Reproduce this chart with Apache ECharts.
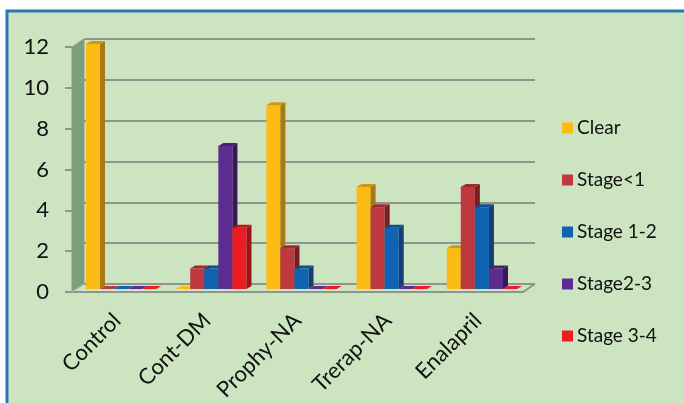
<!DOCTYPE html>
<html>
<head>
<meta charset="utf-8">
<script src="https://cdn.jsdelivr.net/npm/echarts@6/dist/echarts.min.js"></script>
<style>
  html, body { margin: 0; padding: 0; background: #ffffff; }
  #chart { width: 684px; height: 403px; }
</style>
</head>
<body>
<div id="chart"></div>
<script>
// Groups and staging counts
const categories = ['Control', 'Cont-DM', 'Prophy-NA', 'Trerap-NA', 'Enalapril'];
const seriesNames = ['Clear', 'Stage<1', 'Stage 1-2', 'Stage2-3', 'Stage 3-4'];
const clear     = [12, 0, 9, 5, 2];
const stageLt1  = [0, 1, 2, 4, 5];
const stage1to2 = [0, 1, 1, 3, 4];
const stage2to3 = [0, 7, 0, 0, 1];
const stage3to4 = [0, 3, 0, 0, 0];
const yMin = 0, yMax = 12, yStep = 2;

const seriesValues = [clear, stageLt1, stage1to2, stage2to3, stage3to4];

// face / side / top shades for the pseudo-3D columns
const palette = [
  { face: '#fcbc14', side: '#a97a14', top: '#cf9812' },
  { face: '#bf383e', side: '#7b1d22', top: '#9e2a30' },
  { face: '#0f63b3', side: '#133f77', top: '#0d4d8d' },
  { face: '#5d2c8f', side: '#36185b', top: '#472171' },
  { face: '#ec1c24', side: '#9e1218', top: '#c3161c' }
];

// front plane, column plane and back wall, each shifted up-right for depth
const front = { left: 72, top: 47, right: 161, bottom: 111, outerBoundsMode: 'none' };
const colShift = [4, -3];
const backShift = [12, -8];
const colDepth = [5, -3];
const groupFill = 0.78;

function shifted(g, s) {
  return { left: g.left + s[0], right: g.right - s[0], top: g.top + s[1], bottom: g.bottom - s[1], outerBoundsMode: 'none' };
}

function columnRenderer(si) {
  return function (params, api) {
    const ci = api.value(0);
    const v = api.value(1);
    const band = api.size([1, 0])[0];
    const groupW = band * groupFill;
    const bw = groupW / seriesNames.length;
    const base = api.coord([ci, 0]);
    const x0 = base[0] - groupW / 2 + si * bw;
    const yb = base[1];
    const yt = api.coord([ci, v])[1];
    const dx = colDepth[0], dy = colDepth[1];
    const c = palette[si];
    return {
      type: 'group',
      children: [
        { type: 'rect', shape: { x: x0, y: yt, width: bw, height: yb - yt }, style: { fill: c.face } },
        { type: 'polygon', shape: { points: [[x0 + bw, yt], [x0 + bw + dx, yt + dy], [x0 + bw + dx, yb + dy], [x0 + bw, yb]] }, style: { fill: c.side } },
        { type: 'polygon', shape: { points: [[x0, yt], [x0 + dx, yt + dy], [x0 + bw + dx, yt + dy], [x0 + bw, yt]] }, style: { fill: v === 0 ? c.face : c.top } }
      ]
    };
  };
}

// side wall and floor outline, built from the front grid rectangle
function wallRenderer(params) {
  const r = params.coordSys;
  const x = r.x, y = r.y, w = r.width, h = r.height;
  const bx = backShift[0], by = backShift[1];
  return {
    type: 'group',
    children: [
      { type: 'polygon', shape: { points: [[x, y], [x + bx, y + by], [x + bx, y + h + by], [x, y + h]] },
        style: { fill: '#79a07b', stroke: '#8d968b', lineWidth: 1 } },
      { type: 'polyline', shape: { points: [[x, y + h], [x + bx, y + h + by]] },
        style: { stroke: '#a9bca6', lineWidth: 1.5, fill: null } },
      { type: 'polyline', shape: { points: [[x + w, y + h], [x + w + bx, y + h + by]] },
        style: { stroke: '#8f948d', lineWidth: 2, fill: null } }
    ]
  };
}

const colGrid = shifted(front, colShift);
const backGrid = shifted(front, backShift);

const chart = echarts.init(document.getElementById('chart'));

const series = [
  {
    type: 'custom', name: '_wall', xAxisIndex: 0, yAxisIndex: 0, z: 1,
    renderItem: wallRenderer, data: [[0, 0]], silent: true, legendHoverLink: false
  }
];
seriesNames.forEach(function (name, si) {
  series.push({
    type: 'custom',
    name: name,
    xAxisIndex: 1,
    yAxisIndex: 1,
    z: 5,
    itemStyle: { color: palette[si].face },
    renderItem: columnRenderer(si),
    encode: { x: 0, y: 1 },
    data: seriesValues[si].map(function (v, i) { return [i, v]; })
  });
});

const fontFamily = 'Lato, "Open Sans", sans-serif';

chart.setOption({
  animation: false,
  backgroundColor: '#ffffff',
  graphic: [
    { type: 'rect', z: -10, silent: true,
      shape: { x: 7, y: 11, width: 700, height: 420 },
      style: { fill: '#cde4c1', stroke: '#2e75b6', lineWidth: 3 } }
  ],
  legend: {
    orient: 'vertical',
    left: 562,
    top: 117,
    padding: 0,
    itemWidth: 11,
    itemHeight: 11,
    itemGap: 30,
    icon: 'rect',
    data: seriesNames,
    textStyle: { fontFamily: fontFamily, fontSize: 19, color: '#111111', padding: [0, 0, 0, -1], lineHeight: 22 }
  },
  grid: [
    Object.assign({}, front),
    Object.assign({}, colGrid),
    Object.assign({}, backGrid)
  ],
  xAxis: [
    {
      type: 'category', gridIndex: 0, data: categories,
      axisLine: { lineStyle: { color: '#8f948d', width: 2 } },
      axisTick: { length: 7, lineStyle: { color: '#8f948d', width: 2 } },
      axisLabel: { rotate: 45, margin: 25, fontFamily: fontFamily, fontSize: 22, color: '#111111' }
    },
    { type: 'category', gridIndex: 1, data: categories, show: false },
    { type: 'category', gridIndex: 2, data: categories, show: false }
  ],
  yAxis: [
    {
      type: 'value', gridIndex: 0, min: yMin, max: yMax, interval: yStep,
      axisLine: { show: false },
      axisTick: { show: true, length: 7, lineStyle: { color: '#8f948d', width: 2 } },
      splitLine: { show: false },
      axisLabel: { margin: 23, fontFamily: fontFamily, fontSize: 22, color: '#111111' }
    },
    { type: 'value', gridIndex: 1, min: yMin, max: yMax, interval: yStep, show: false, splitLine: { show: false } },
    {
      type: 'value', gridIndex: 2, min: yMin, max: yMax, interval: yStep,
      axisLine: { show: false }, axisTick: { show: false }, axisLabel: { show: false },
      splitLine: { show: true, lineStyle: { color: '#8f948d', width: 2 } }
    }
  ],
  series: series
});
</script>
</body>
</html>
